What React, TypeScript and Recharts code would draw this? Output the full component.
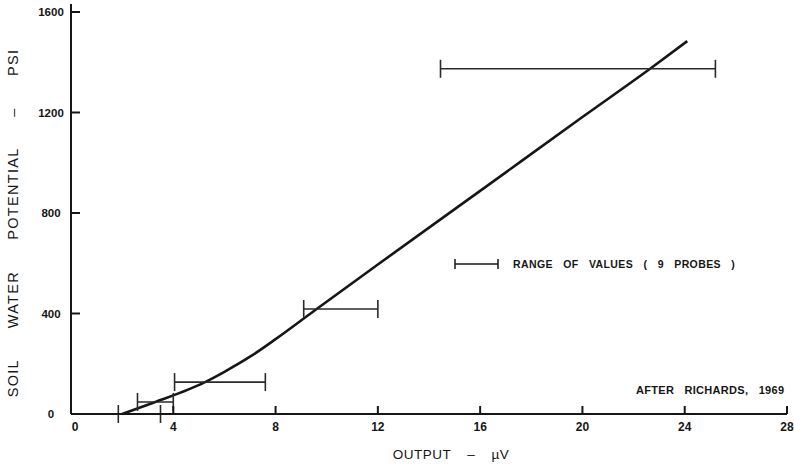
import * as React from 'react';
import {
  ComposedChart,
  Line,
  Scatter,
  ErrorBar,
  XAxis,
  YAxis,
} from 'recharts';

// calibration curve (output in microvolts vs soil water potential in psi)
const curveOutput = [2.0, 3.3, 4.6, 5.2, 6.0, 7.0, 8.0, 9.5, 12, 16, 20, 22.7, 24.1];
const curvePotential = [0, 48, 98, 125, 168, 228, 298, 410, 595, 888, 1182, 1378, 1484];

// range of values over the 9 probes
const rangeLow = [1.85, 2.6, 4.05, 9.1, 14.45];
const rangeHigh = [3.5, 4.0, 7.6, 12.0, 25.2];
const rangePotential = [0, 48, 127, 418, 1374];

const xTicks = [0, 4, 8, 12, 16, 20, 24, 28];
const yTicks = [0, 400, 800, 1200, 1600];

const INK = '#161616';
const TICK_FONT = '"Liberation Sans", Arial, sans-serif';

const curveData = curveOutput.map((x, i) => ({ x, y: curvePotential[i] }));
const rangeData = rangeLow.map((lo, i) => ({
  x: lo,
  y: rangePotential[i],
  err: [0, rangeHigh[i] - lo],
}));

const XTick = (props: any) => {
  const { x, y, payload } = props;
  return (
    <g>
      {payload.value !== 0 && (
        <line x1={x} x2={x} y1={y} y2={y - 8} stroke={INK} strokeWidth={2} />
      )}
      <text
        x={x + (payload.value === 0 ? 4 : 0)}
        y={y + 17}
        textAnchor="middle"
        fontFamily={TICK_FONT}
        fontWeight={700}
        fontSize={12}
        fill={INK}
      >
        {payload.value}
      </text>
    </g>
  );
};

const YTick = (props: any) => {
  const { x, y, payload } = props;
  return (
    <g>
      {payload.value !== 0 && (
        <line x1={x} x2={x + 9} y1={y} y2={y} stroke={INK} strokeWidth={2} />
      )}
      {payload.value === 1600 && (
        <line x1={x} x2={x} y1={y} y2={y - 8} stroke={INK} strokeWidth={2} />
      )}
      <text
        x={x - 20}
        y={y + 4}
        textAnchor="middle"
        fontFamily={TICK_FONT}
        fontWeight={700}
        fontSize={11.5}
        fill={INK}
      >
        {payload.value}
      </text>
    </g>
  );
};

// rotated y axis title, drawn from the axis viewBox
const YTitle = (props: any) => {
  const { viewBox } = props;
  const cx = viewBox.x + 13;
  const cy = viewBox.y + viewBox.height / 2 + 10;
  return (
    <text
      x={cx}
      y={cy}
      transform={`rotate(-90, ${cx}, ${cy})`}
      textAnchor="middle"
      dominantBaseline="central"
      fontFamily={TICK_FONT}
      fontSize={14.5}
      fill={INK}
      letterSpacing={1.3}
      wordSpacing={26}
    >
      SOIL WATER POTENTIAL – PSI
    </text>
  );
};

const noShape = () => <g />;

export default function App() {
  return (
    <div
      style={{
        position: 'absolute',
        left: 0,
        top: 0,
        width: 794,
        height: 467,
        background: '#fff',
      }}
    >
      <ComposedChart
        width={794}
        height={467}
        margin={{ top: 12, right: 7, bottom: 0, left: 0 }}
      >
        <XAxis
          type="number"
          dataKey="x"
          domain={[0, 28]}
          ticks={xTicks}
          interval={0}
          height={53}
          tickSize={0}
          tickMargin={0}
          tick={<XTick />}
          axisLine={{ stroke: INK, strokeWidth: 2 }}
          tickLine={false}
          label={{
            value: 'OUTPUT – µV',
            position: 'insideBottom',
            offset: 8,
            dx: 22,
            style: {
              fontFamily: TICK_FONT,
              fontSize: 13.5,
              fill: INK,
              letterSpacing: 0.5,
              wordSpacing: 12,
            },
          }}
        />
        <YAxis
          type="number"
          dataKey="y"
          domain={[0, 1600]}
          ticks={yTicks}
          interval={0}
          width={71}
          tickSize={0}
          tickMargin={0}
          tick={<YTick />}
          axisLine={{ stroke: INK, strokeWidth: 2 }}
          tickLine={false}
          label={<YTitle />}
        />
        <Line
          data={curveData}
          dataKey="y"
          type="monotone"
          stroke={INK}
          strokeWidth={2.6}
          dot={false}
          activeDot={false}
          isAnimationActive={false}
        />
        <Scatter data={rangeData} shape={noShape} isAnimationActive={false}>
          <ErrorBar
            dataKey="err"
            direction="x"
            width={9}
            stroke="#2a2a2a"
            strokeWidth={1.6}
            isAnimationActive={false}
          />
        </Scatter>
      </ComposedChart>
      <div
        style={{
          position: 'absolute',
          left: 453,
          top: 258,
          display: 'flex',
          alignItems: 'center',
        }}
      >
        <svg width={48} height={12}>
          <line x1={2} x2={45} y1={6} y2={6} stroke={INK} strokeWidth={1.5} />
          <line x1={2} x2={2} y1={1} y2={11} stroke={INK} strokeWidth={1.5} />
          <line x1={45} x2={45} y1={1} y2={11} stroke={INK} strokeWidth={1.5} />
        </svg>
        <span
          style={{
            marginLeft: 12,
            fontFamily: TICK_FONT,
            fontWeight: 700,
            fontSize: 10.5,
            letterSpacing: 0.4,
            wordSpacing: 7,
            color: INK,
            whiteSpace: 'nowrap',
          }}
        >
          RANGE OF VALUES ( 9 PROBES )
        </span>
      </div>
      <div
        style={{
          position: 'absolute',
          left: 636,
          top: 384,
          fontFamily: TICK_FONT,
          fontWeight: 700,
          fontSize: 11,
          letterSpacing: 0.3,
          wordSpacing: 7,
          color: INK,
          whiteSpace: 'nowrap',
        }}
      >
        AFTER RICHARDS, 1969
      </div>
    </div>
  );
}
